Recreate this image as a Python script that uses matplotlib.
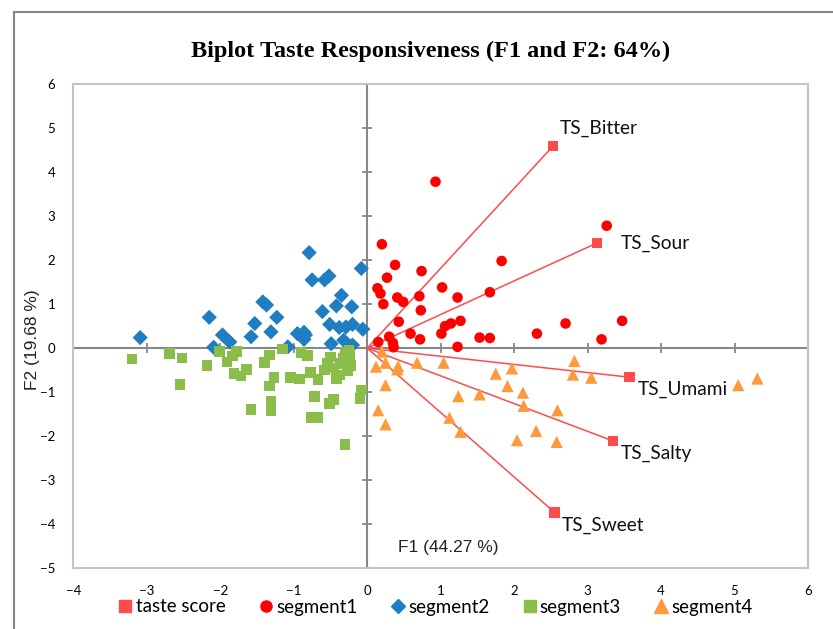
import matplotlib.pyplot as plt
from matplotlib.lines import Line2D

# Vecteurs (taste score)
ts_labels = ["TS_Bitter", "TS_Sour", "TS_Umami", "TS_Salty", "TS_Sweet"]
ts_x = [2.53, 3.13, 3.57, 3.35, 2.55]
ts_y = [4.59, 2.39, -0.66, -2.11, -3.73]

# segment1
seg1_x = [0.93, 3.26, 0.20, 1.83, 0.38, 0.74, 0.27, 0.14, 0.18, 1.02, 0.41, 0.49,
          0.71, 1.23, 1.67, 0.22, 0.73, 0.43, 1.27, 1.14, 1.06, 1.01, 0.59, 0.72,
          0.30, 0.35, 0.36, 0.15, 1.23, 1.53, 1.67, 2.31, 2.70, 3.19, 3.47]
seg1_y = [3.78, 2.78, 2.36, 1.98, 1.89, 1.75, 1.60, 1.36, 1.24, 1.38, 1.15, 1.05,
          1.18, 1.15, 1.27, 1.00, 0.86, 0.60, 0.62, 0.56, 0.50, 0.33, 0.33, 0.20,
          0.26, 0.12, 0.02, 0.14, 0.03, 0.24, 0.23, 0.33, 0.56, 0.20, 0.62]

# segment2
seg2_x = [-3.09, -2.15, -2.09, -1.97, -1.87, -1.58, -1.53, -1.42, -1.37, -1.31, -1.23,
          -1.08, -0.95, -0.86, -0.84, -0.86, -0.79, -0.75, -0.58, -0.52, -0.35, -0.42,
          -0.61, -0.21, -0.51, -0.38, -0.29, -0.20, -0.08, -0.06, -0.49, -0.32, -0.20]
seg2_y = [0.24, 0.70, 0.02, 0.30, 0.14, 0.26, 0.56, 1.05, 0.98, 0.37, 0.70,
          0.03, 0.33, 0.36, 0.30, 0.20, 2.17, 1.55, 1.55, 1.64, 1.20, 0.96,
          0.83, 0.94, 0.54, 0.47, 0.48, 0.54, 1.81, 0.43, 0.10, 0.18, 0.07]

# segment3
seg3_x = [-3.20, -2.69, -2.52, -2.55, -2.18, -2.01, -1.91, -1.83, -1.78, -1.81, -1.72, -1.64,
          -1.58, -1.40, -1.33, -1.27, -1.33, -1.31, -1.31, -1.15, -1.04, -0.92, -0.90, -0.81,
          -0.77, -0.67, -0.72, -0.51, -0.46, -0.76, -0.67, -0.30, -0.58, -0.54, -0.50, -0.42,
          -0.38, -0.36, -0.30, -0.24, -0.30, -0.27, -0.33, -0.22, -0.10, -0.08, -0.45, -0.25]
seg3_y = [-0.25, -0.12, -0.22, -0.82, -0.39, -0.08, -0.31, -0.18, -0.07, -0.58, -0.63, -0.48,
          -1.39, -0.33, -0.16, -0.67, -0.86, -1.20, -1.43, -0.02, -0.67, -0.70, -0.10, -0.17,
          -0.55, -0.71, -1.10, -1.26, -1.17, -1.58, -1.58, -2.19, -0.50, -0.35, -0.20, -0.69,
          -0.61, -0.35, -0.30, -0.15, -0.10, -0.52, -0.22, -0.40, -1.14, -0.95, -0.45, -0.05]

# segment4
seg4_x = [0.20, 0.12, 0.25, 0.41, 0.42, 0.68, 1.04, 1.75, 1.97, 2.82, 2.80, 3.05, 5.05, 5.31,
          0.25, 1.91, 2.12, 1.24, 1.53, 2.13, 2.59, 0.15, 0.25, 1.12, 1.27, 2.30, 2.04, 2.58]
seg4_y = [-0.08, -0.42, -0.33, -0.48, -0.41, -0.33, -0.33, -0.58, -0.46, -0.29, -0.60, -0.67,
          -0.84, -0.69, -0.84, -0.86, -1.01, -1.09, -1.05, -1.31, -1.41, -1.41, -1.73, -1.58,
          -1.90, -1.88, -2.09, -2.13]

x_ticks = list(range(-4, 7))
y_ticks = list(range(-5, 7))

c_ts = "#FF4B4B"
c1 = "#FF0000"
c2 = "#1F7EC2"
c3 = "#8BBD4B"
c4 = "#FF9A3C"

fig = plt.figure(figsize=(8.33, 6.29), dpi=100)
ax = fig.add_axes([0.088, 0.0965, 0.882, 0.77])

# bordure du graphique (coupée à droite et en bas)
fig.add_artist(Line2D([14/833, 14/833], [0, 1 - 12/629], color="#888888", lw=1.5))
fig.add_artist(Line2D([14/833, 1], [1 - 12/629, 1 - 12/629], color="#888888", lw=1.5))

# vecteurs
for lx, ly in zip(ts_x, ts_y):
    ax.plot([0, lx], [0, ly], color=c_ts, lw=1.1, zorder=2)
ax.scatter(ts_x, ts_y, marker="s", s=55, color=c_ts, edgecolors="none", zorder=3)

offsets = [(5, 13), (17, 0), (6, -9), (5, -9), (5, -9)]
for lab, lx, ly, off in zip(ts_labels, ts_x, ts_y, offsets):
    ax.annotate(lab, (lx, ly), xytext=off, textcoords="offset points",
                ha="left", va="center", fontsize=13.8, family="Lato", color="#111111")

ax.scatter(seg1_x, seg1_y, marker="o", s=58, color=c1, edgecolors="none", zorder=4)
ax.scatter(seg2_x, seg2_y, marker="D", s=60, color=c2, edgecolors="none", zorder=4)
ax.scatter(seg3_x, seg3_y, marker="s", s=58, color=c3, edgecolors="none", zorder=4)
ax.scatter(seg4_x, seg4_y, marker="^", s=78, color=c4, edgecolors="none", zorder=4)

# axes au zéro avec graduations croisées
ax.axhline(0, color="#878787", lw=1.5, zorder=1)
ax.axvline(0, color="#878787", lw=1.5, zorder=1)
ax.plot(x_ticks, [0] * len(x_ticks), ls="none", marker="|", ms=6.5, mew=1.3,
        color="#878787", zorder=1, clip_on=False)
ax.plot([0] * len(y_ticks), y_ticks, ls="none", marker="_", ms=6.5, mew=1.3,
        color="#878787", zorder=1, clip_on=False)

ax.set_xlim(-4, 6)
ax.set_ylim(-5, 6)
ax.set_xticks(x_ticks)
ax.set_yticks(y_ticks)
ax.tick_params(length=0, labelsize=9.5, pad=13)
ax.tick_params(axis="x", pad=12)
for t in ax.get_xticklabels() + ax.get_yticklabels():
    t.set_family("Lato")
for sp in ax.spines.values():
    sp.set_color("#C4C4C4")
    sp.set_linewidth(1.5)

ax.text(1.1, -4.52, "F1 (44.27 %)", ha="center", va="center", fontsize=12.5,
        family="Liberation Sans", color="#222222")
fig.text(33/833, 1 - 340/629, "F2 (19.68 %)", rotation=90, ha="center", va="center",
         fontsize=12.5, family="Liberation Sans", color="#222222")

fig.text(431/833, 1 - 51/629, "Biplot Taste Responsiveness (F1 and F2: 64%)",
         ha="center", va="center", fontsize=17.5, fontweight="bold",
         family="Liberation Serif")

handles = [
    Line2D([], [], ls="none", marker="s", ms=8, color=c_ts),
    Line2D([], [], ls="none", marker="o", ms=8, color=c1),
    Line2D([], [], ls="none", marker="D", ms=7.5, color=c2),
    Line2D([], [], ls="none", marker="s", ms=8, color=c3),
    Line2D([], [], ls="none", marker="^", ms=10, color=c4),
]
names = ["taste score", "segment1", "segment2", "segment3", "segment4"]
fig.legend(handles, names, loc="center", bbox_to_anchor=(434/833, 1 - 607/629), ncol=5,
           frameon=False, handletextpad=0.0, columnspacing=1.6, handlelength=1.1,
           prop={"family": "Lato", "size": 13.5})

fig.savefig("out.png", dpi=100)
